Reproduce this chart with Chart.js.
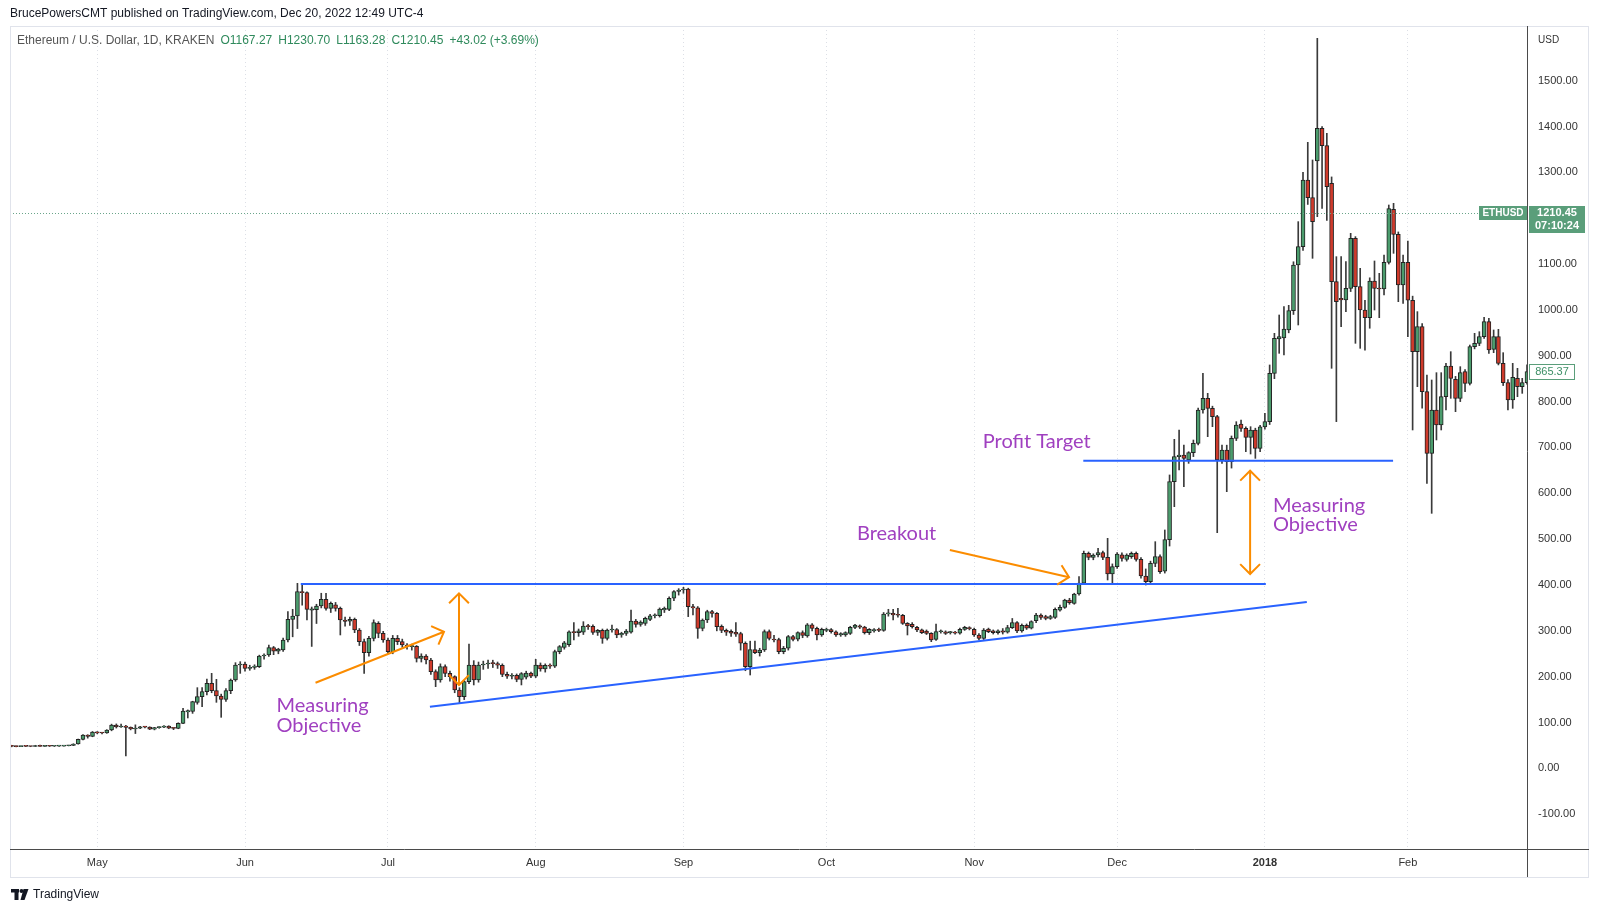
<!DOCTYPE html>
<html lang="en">
<head>
<meta charset="utf-8">
<title>Ethereum / U.S. Dollar, 1D, KRAKEN</title>
<script src="https://cdn.jsdelivr.net/npm/chart.js@4.4.1/dist/chart.umd.min.js"></script>
<style>
  html, body { margin: 0; padding: 0; background: #fff; overflow: hidden; }
  canvas { display: block; }
</style>
</head>
<body>
<canvas id="ch-eth" width="1600" height="912"></canvas>
<script>
// ══════════════════════════════════════════════════════════════════════════════
//  DATA  (bar 0 = 13 Apr 2017, one bar per trading day on Kraken;
//         January 2018 has 30 bars because the exchange was offline one day)
// ══════════════════════════════════════════════════════════════════════════════
const monthStarts = [18, 49, 79, 110, 141, 171, 202, 232, 263, 293];
const monthLabels = ['May', 'Jun', 'Jul', 'Aug', 'Sep', 'Oct', 'Nov', 'Dec', '2018', 'Feb'];
const priceTicks  = [-100, 0, 100, 200, 300, 400, 500, 600, 700, 800, 900, 1000, 1100, 1200, 1300, 1400, 1500];

const opens = [
  /* Apr */ 49.5, 48.0, 47.6, 48.2, 48.0, 47.8, 50.0, 48.1, 49.3, 48.3, 48.5, 48.6, 49.3, 50.0, 53.2, 63.4, 72.5, 69.8,
  /* May */ 79.4, 77.6, 77.2, 83.7, 94.6, 90.2, 92.5, 89.5, 86.0, 88.0, 90.5, 90.0, 85.5, 88.8, 90.0, 92.5, 88.0, 87.2, 98.2, 123.0, 124.1, 144.1, 156.5, 167.3, 185.5, 169.5, 157.9, 150.6, 169.5, 192.8, 225.5,
  /* Jun */ 227.7, 218.2, 220.4, 222.0, 245.1, 247.3, 263.3, 255.6, 258.2, 280.0, 325.1, 332.4, 385.4, 383.3, 345.0, 346.0, 354.2, 368.7, 349.1, 357.0, 349.1, 323.7, 321.0, 325.1, 301.8, 276.4, 252.4, 283.7, 316.4, 294.6,
  /* Jul */ 280.0, 254.6, 283.7, 276.4, 269.1, 265.5, 266.5, 240.0, 245.1, 236.4, 211.0, 192.8, 221.9, 207.4, 200.0, 171.0, 156.4, 189.2, 225.5, 192.8, 225.5, 227.7, 231.0, 228.5, 225.0, 205.0, 201.0, 203.0, 194.0, 199.0, 208.0,
  /* Aug */ 201.0, 225.5, 217.0, 225.0, 223.0, 254.6, 264.0, 270.0, 298.0, 296.0, 297.0, 310.6, 310.0, 296.7, 301.0, 283.7, 301.8, 303.0, 290.9, 294.6, 297.0, 321.5, 314.0, 316.0, 325.0, 333.0, 333.0, 345.5, 347.0, 371.0, 386.0,
  /* Sep */ 389.0, 391.0, 352.7, 350.0, 305.5, 323.7, 341.8, 338.0, 310.0, 301.0, 299.0, 297.0, 294.0, 273.0, 222.0, 259.0, 252.4, 258.2, 298.2, 282.0, 281.0, 254.6, 262.0, 287.3, 282.0, 296.0, 289.0, 313.0, 305.5, 291.0,
  /* Oct */ 301.0, 303.0, 298.0, 291.0, 291.0, 294.6, 307.7, 311.0, 308.0, 296.0, 300.0, 303.0, 301.0, 337.0, 338.0, 336.0, 334.0, 316.4, 314.0, 307.7, 302.0, 299.7, 294.6, 281.5, 298.0, 298.0, 296.0, 297.0, 295.0, 303.0, 307.0,
  /* Nov */ 303.3, 291.0, 283.7, 304.0, 300.0, 296.0, 300.0, 297.0, 307.0, 318.0, 300.0, 312.0, 306.0, 322.0, 334.6, 331.0, 327.0, 329.5, 345.0, 351.3, 367.3, 360.0, 380.4, 404.0, 469.0, 460.4, 465.5, 470.6, 460.4, 424.0,
  /* Dec */ 440.0, 466.0, 456.0, 461.8, 469.0, 456.0, 419.7, 407.3, 447.3, 461.8, 430.0, 499.0, 625.3, 679.9, 683.5, 672.6, 688.6, 709.0, 781.7, 807.1, 785.3, 767.1, 672.6, 694.4, 669.0, 719.9, 751.1, 741.7, 722.0, 738.0, 698.0,
  /* Jan */ 745.0, 756.2, 861.7, 936.6, 939.0, 956.2, 998.4, 1097.9, 1137.9, 1283.3, 1244.8, 1324.8, 1396.0, 1358.2, 1276.1, 1061.6, 1025.3, 1021.6, 1047.1, 1156.1, 1050.7, 999.8, 983.1, 1063.1, 1047.1, 1045.6, 1103.8, 1219.4, 1164.8, 1054.4,
  /* Feb */ 1103.8, 1021.0, 908.9, 963.5, 821.7, 687.2, 781.7, 749.0, 810.8, 877.6, 848.6, 807.1, 865.3, 839.8, 919.8, 927.1, 941.6, 974.3, 914.0, 941.6, 883.5, 841.3, 803.5, 850.8, 832.6, 841.3,
];
const highs = [
  /* Apr */ 50.5, 48.9, 48.6, 48.7, 48.4, 50.4, 50.8, 49.8, 49.8, 48.9, 49.0, 49.6, 50.4, 53.8, 64.0, 74.0, 73.5, 80.5,
  /* May */ 80.2, 78.4, 84.5, 96.5, 97.0, 96.5, 94.0, 90.5, 95.0, 91.5, 91.5, 90.8, 89.5, 91.0, 93.5, 93.0, 89.0, 99.5, 131.0, 127.5, 146.5, 176.1, 176.0, 195.0, 207.3, 194.2, 162.0, 174.0, 195.0, 230.6, 232.8,
  /* Jun */ 232.0, 225.0, 226.0, 247.0, 250.0, 269.0, 266.0, 262.0, 284.0, 341.8, 347.0, 403.6, 400.0, 385.0, 352.0, 358.0, 382.0, 382.0, 363.0, 362.0, 352.0, 330.0, 330.0, 328.0, 305.0, 282.0, 288.0, 324.0, 320.0, 299.0,
  /* Jul */ 284.0, 290.0, 290.0, 282.0, 272.0, 271.0, 268.0, 250.0, 248.0, 240.0, 215.0, 228.0, 226.0, 212.0, 202.0, 176.0, 192.0, 271.0, 235.0, 232.0, 234.0, 236.0, 236.0, 232.0, 228.0, 210.0, 207.0, 206.0, 209.0, 212.0, 210.0,
  /* Aug */ 238.0, 230.0, 228.0, 228.0, 258.0, 268.0, 277.0, 300.0, 317.8, 304.0, 320.0, 314.0, 313.0, 303.0, 304.0, 304.0, 312.7, 305.0, 297.0, 303.0, 345.5, 325.0, 322.0, 330.0, 336.0, 337.0, 350.0, 352.0, 374.0, 388.0, 392.0,
  /* Sep */ 395.0, 393.0, 358.0, 353.0, 326.0, 345.0, 345.0, 340.0, 313.0, 304.0, 302.0, 317.8, 297.0, 276.0, 277.5, 277.5, 262.0, 302.0, 302.0, 290.0, 284.0, 266.0, 290.0, 290.0, 298.0, 300.0, 316.0, 316.0, 308.0, 306.0,
  /* Oct */ 306.0, 305.0, 300.0, 296.0, 298.0, 310.0, 314.0, 313.0, 310.0, 305.0, 305.0, 306.0, 340.0, 347.0, 347.0, 349.0, 336.0, 318.0, 318.0, 310.0, 304.0, 302.0, 296.0, 315.0, 302.0, 300.0, 299.0, 299.0, 306.0, 310.0, 309.0,
  /* Nov */ 306.0, 294.0, 305.0, 306.0, 302.0, 302.0, 305.0, 312.0, 327.0, 320.0, 315.0, 315.0, 322.0, 338.0, 337.0, 334.0, 334.0, 350.0, 356.0, 369.0, 371.0, 382.0, 418.2, 474.0, 472.0, 468.0, 480.0, 474.0, 501.8, 446.0,
  /* Dec */ 470.6, 470.0, 468.0, 472.0, 472.0, 460.0, 435.0, 452.0, 494.5, 466.0, 520.0, 640.0, 717.7, 738.0, 705.3, 690.8, 716.2, 786.0, 861.6, 818.0, 790.0, 770.0, 705.0, 705.0, 725.0, 756.2, 759.8, 745.0, 745.3, 742.0, 748.0,
  /* Jan */ 774.4, 879.9, 948.9, 988.9, 1007.1, 1010.0, 1105.0, 1192.5, 1300.0, 1365.5, 1327.0, 1592.3, 1399.7, 1385.0, 1290.0, 1116.1, 1116.1, 1105.2, 1167.0, 1159.8, 1090.7, 1021.0, 1070.0, 1106.7, 1079.8, 1119.8, 1228.8, 1232.5, 1170.0, 1119.8,
  /* Feb */ 1150.3, 1030.0, 996.2, 970.0, 858.0, 847.1, 863.1, 863.1, 883.5, 908.9, 855.0, 876.2, 870.0, 923.4, 948.9, 952.5, 983.8, 981.6, 956.2, 957.6, 906.7, 848.0, 883.5, 872.6, 850.8, 880.0,
];
const lows = [
  /* Apr */ 47.0, 47.0, 47.2, 47.5, 47.3, 47.6, 47.8, 47.9, 47.8, 47.8, 48.0, 48.3, 49.0, 49.8, 52.8, 62.0, 66.0, 69.0,
  /* May */ 75.5, 75.2, 76.5, 82.0, 88.0, 89.5, 27.0, 84.0, 76.0, 86.5, 88.5, 84.5, 84.0, 87.5, 89.0, 86.5, 84.5, 86.5, 97.5, 110.0, 120.0, 140.0, 134.6, 160.0, 165.0, 144.1, 111.4, 146.0, 163.0, 190.0, 207.3,
  /* Jun */ 212.0, 214.0, 216.0, 220.0, 238.0, 244.0, 248.0, 250.0, 255.0, 276.0, 287.0, 305.0, 356.0, 323.7, 266.0, 316.0, 350.0, 345.0, 340.0, 343.0, 291.0, 310.0, 312.0, 296.0, 268.0, 207.0, 245.0, 278.0, 285.0, 275.0,
  /* Jul */ 250.0, 250.0, 270.0, 264.0, 260.0, 258.0, 232.0, 232.0, 228.0, 205.0, 178.3, 188.0, 200.0, 190.0, 165.0, 141.9, 150.0, 185.0, 182.0, 188.0, 216.0, 218.0, 220.0, 218.0, 200.0, 196.0, 195.0, 189.0, 182.0, 195.0, 198.0,
  /* Aug */ 198.0, 212.0, 210.0, 218.0, 220.0, 250.0, 260.0, 266.0, 280.0, 288.0, 292.0, 303.0, 292.0, 290.0, 272.8, 280.0, 297.0, 285.0, 286.0, 290.0, 295.0, 308.0, 310.0, 312.0, 322.0, 328.0, 330.0, 340.0, 344.0, 366.0, 378.0,
  /* Sep */ 382.0, 331.0, 335.0, 283.7, 300.0, 318.0, 330.0, 300.0, 296.0, 290.0, 288.0, 288.0, 258.0, 213.0, 203.7, 250.0, 245.0, 255.0, 280.0, 276.0, 250.0, 250.0, 258.0, 278.0, 278.0, 285.0, 286.0, 300.0, 280.0, 288.0,
  /* Oct */ 298.0, 295.0, 288.0, 288.0, 288.0, 292.0, 305.0, 305.0, 293.0, 292.0, 297.0, 298.0, 299.0, 332.0, 323.7, 330.0, 314.0, 291.0, 306.0, 298.0, 294.0, 292.0, 276.4, 279.0, 295.0, 292.0, 293.0, 293.0, 293.0, 301.0, 302.0,
  /* Nov */ 288.0, 280.0, 281.0, 296.0, 293.0, 293.0, 293.0, 295.0, 305.0, 296.0, 297.0, 303.0, 304.0, 318.0, 325.0, 324.0, 325.0, 327.0, 343.0, 349.0, 358.0, 358.0, 378.0, 402.0, 455.0, 455.0, 461.0, 455.0, 410.9, 403.7,
  /* Dec */ 436.0, 452.0, 452.0, 458.0, 452.0, 415.0, 400.0, 403.0, 440.0, 425.0, 426.0, 485.0, 570.8, 650.8, 614.4, 665.3, 680.0, 705.3, 775.0, 723.5, 745.3, 514.1, 665.0, 603.5, 655.0, 715.0, 735.0, 690.8, 685.7, 676.2, 690.8,
  /* Jan */ 740.0, 750.0, 850.0, 905.3, 901.7, 950.0, 990.0, 967.1, 1130.0, 1230.0, 1112.5, 1203.4, 1221.6, 1195.0, 872.6, 756.3, 963.5, 996.2, 1040.0, 927.1, 916.2, 912.0, 960.0, 999.8, 983.1, 1032.5, 1100.0, 1123.4, 1018.0, 1014.4,
  /* Feb */ 941.6, 738.1, 832.6, 785.4, 621.7, 556.3, 716.3, 738.1, 781.7, 807.1, 778.0, 800.0, 821.7, 836.2, 915.0, 922.0, 938.0, 905.0, 906.7, 880.0, 835.0, 781.7, 785.3, 810.8, 818.0, 838.0,
];
const closes = [
  /* Apr */ 48.0, 47.6, 48.2, 48.0, 47.8, 50.0, 48.1, 49.3, 48.3, 48.5, 48.6, 49.3, 50.0, 53.2, 63.4, 72.5, 69.8, 79.4,
  /* May */ 77.6, 77.2, 83.7, 94.6, 90.2, 92.5, 89.5, 86.0, 88.0, 90.5, 90.0, 85.5, 88.8, 90.0, 92.5, 88.0, 87.2, 98.2, 125.2, 125.9, 145.5, 156.5, 167.3, 185.5, 169.5, 157.9, 150.6, 169.5, 192.8, 225.5, 227.7,
  /* Jun */ 218.2, 220.4, 223.3, 245.1, 247.3, 263.3, 255.6, 260.4, 280.0, 325.1, 332.4, 385.4, 383.3, 346.9, 348.0, 354.2, 368.7, 349.1, 360.0, 349.1, 323.7, 320.5, 325.1, 301.8, 276.4, 252.4, 283.7, 317.8, 294.6, 280.0,
  /* Jul */ 254.6, 283.7, 276.4, 269.1, 265.5, 266.5, 240.0, 245.1, 236.4, 211.0, 192.8, 221.9, 207.4, 200.0, 171.0, 156.4, 189.2, 225.5, 192.8, 225.5, 227.7, 229.6, 228.5, 225.0, 205.0, 201.0, 203.0, 194.0, 207.0, 208.0, 201.0,
  /* Aug */ 225.5, 217.0, 225.0, 223.0, 254.6, 265.5, 274.0, 298.0, 296.0, 300.0, 310.6, 309.1, 296.7, 301.0, 283.7, 301.8, 303.0, 290.9, 294.6, 299.7, 321.5, 314.0, 319.0, 327.3, 333.0, 334.0, 347.6, 349.0, 371.0, 385.4, 389.0,
  /* Sep */ 391.0, 352.7, 350.0, 305.5, 323.7, 341.8, 338.0, 309.1, 301.0, 297.0, 295.0, 293.0, 273.0, 222.0, 259.0, 252.4, 258.2, 298.2, 283.7, 280.0, 254.6, 262.0, 287.3, 281.5, 296.0, 290.0, 313.0, 305.5, 291.0, 303.3,
  /* Oct */ 303.0, 298.0, 291.0, 294.0, 296.0, 307.7, 312.8, 308.0, 296.0, 303.3, 303.0, 301.0, 336.7, 338.0, 334.6, 334.0, 316.4, 310.6, 309.0, 302.0, 296.0, 294.6, 280.0, 298.2, 300.0, 294.6, 298.0, 295.0, 303.3, 307.7, 305.0,
  /* Nov */ 291.0, 283.7, 301.9, 298.0, 296.0, 300.0, 297.0, 307.0, 318.0, 300.0, 312.0, 306.0, 320.0, 334.6, 329.5, 327.0, 331.0, 347.0, 351.3, 367.3, 361.5, 380.4, 404.0, 469.0, 460.4, 465.5, 470.6, 460.4, 424.0, 440.0,
  /* Dec */ 467.7, 458.0, 465.0, 469.0, 456.0, 419.7, 407.3, 447.3, 461.8, 429.0, 499.0, 625.3, 679.9, 683.5, 676.2, 688.6, 709.0, 781.7, 807.1, 785.3, 767.1, 672.6, 694.4, 669.0, 719.9, 748.9, 741.7, 722.0, 738.0, 698.0, 745.0,
  /* Jan */ 756.2, 861.7, 938.0, 941.6, 958.4, 998.4, 1097.9, 1137.9, 1283.3, 1244.8, 1192.5, 1396.0, 1358.2, 1268.8, 1061.6, 1018.0, 1021.6, 1047.1, 1156.1, 1050.7, 999.8, 983.1, 1063.1, 1047.1, 1045.6, 1103.8, 1221.0, 1164.8, 1054.4, 1103.8,
  /* Feb */ 1021.0, 908.9, 963.5, 821.7, 687.2, 781.7, 749.0, 810.8, 877.6, 850.8, 807.1, 863.1, 839.8, 919.8, 927.1, 941.6, 974.3, 912.5, 941.6, 883.5, 841.3, 803.5, 852.9, 832.6, 841.3, 865.37,
];
const lastPrice = 1210.45;

// ══════════════════════════════════════════════════════════════════════════════
//  DRAWINGS  (anchored like TradingView drawings: [bar index, price])
// ══════════════════════════════════════════════════════════════════════════════
const TRENDLINES = [
  { from: [60.7, 402.2], to: [263.2, 402.2] },   // flat top of the triangle
  { from: [87.8, 134.6], to: [271.8, 362.9] },   // rising lower side
  { from: [224.9, 671.2], to: [289.9, 671.2] },  // profit target
];
const ARROWS = [
  { from: [63.8, 186.9],  to: [90.75, 298.1], both: false },
  { from: [93.9, 181.9],  to: [93.9, 381.9],  both: true },
  { from: [196.9, 476.3], to: [221.9, 417.1], both: false },
  { from: [259.9, 424.0], to: [259.9, 649.3], both: true },
];
const NOTES = [
  { at: [55.6, 123.0],  lines: ['Measuring', 'Objective'] },
  { at: [177.4, 498.1], lines: ['Breakout'] },
  { at: [203.8, 698.8], lines: ['Profit Target'] },
  { at: [264.7, 559.9], lines: ['Measuring', 'Objective'] },
];

const UP = '#4b9c6d', DOWN = '#cf3a2b', EDGE = '#222', WICK = '#3a3a3a';
const LINE_BLUE = '#2962ff', ARROW_ORANGE = '#fb8c00', NOTE_PURPLE = '#a040c0';
const LABEL_GREEN = '#5a9e7a', TEXT = '#131722', AXIS_TEXT = '#333';
const FONT = '"Liberation Sans", Arial, sans-serif';

const idx = closes.map((_, i) => i);
const wickData = idx.map(i => ({ x: i, y: [lows[i], highs[i]] }));
const bodyData = idx.map(i => ({ x: i, y: [opens[i], closes[i]] }));
const isUp = i => closes[i] >= opens[i];

function headAt(ctx, tip, tail, len) {
  const a = Math.atan2(tip[1] - tail[1], tip[0] - tail[0]);
  ctx.beginPath();
  ctx.moveTo(tip[0] - len * Math.cos(a - Math.PI / 4), tip[1] - len * Math.sin(a - Math.PI / 4));
  ctx.lineTo(tip[0], tip[1]);
  ctx.lineTo(tip[0] - len * Math.cos(a + Math.PI / 4), tip[1] - len * Math.sin(a + Math.PI / 4));
  ctx.stroke();
}

const tvDrawings = {
  id: 'tvDrawings',
  beforeDraw(chart) {
    const { ctx } = chart;
    ctx.save();
    ctx.fillStyle = '#fff';
    ctx.fillRect(0, 0, chart.width, chart.height);
    ctx.restore();
  },
  afterDatasetsDraw(chart) {
    const { ctx, chartArea: a, scales: { x, y } } = chart;
    const px = p => [x.getPixelForValue(p[0]), y.getPixelForValue(p[1])];
    ctx.save();
    ctx.beginPath(); ctx.rect(a.left, a.top, a.right - a.left, a.bottom - a.top); ctx.clip();

    // last price line
    const ly = Math.round(y.getPixelForValue(lastPrice)) + 0.5;
    ctx.strokeStyle = '#6aa58a'; ctx.lineWidth = 1; ctx.setLineDash([1, 2]);
    ctx.beginPath(); ctx.moveTo(a.left, ly); ctx.lineTo(a.right - 48, ly); ctx.stroke();
    ctx.setLineDash([]);

    ctx.lineWidth = 2; ctx.strokeStyle = LINE_BLUE; ctx.lineCap = 'butt';
    TRENDLINES.forEach(t => {
      const p1 = px(t.from), p2 = px(t.to);
      ctx.beginPath(); ctx.moveTo(p1[0], p1[1]); ctx.lineTo(p2[0], p2[1]); ctx.stroke();
    });

    ctx.strokeStyle = ARROW_ORANGE; ctx.lineJoin = 'miter';
    ARROWS.forEach(ar => {
      const p1 = px(ar.from), p2 = px(ar.to);
      ctx.beginPath(); ctx.moveTo(p1[0], p1[1]); ctx.lineTo(p2[0], p2[1]); ctx.stroke();
      headAt(ctx, p2, p1, 14);
      if (ar.both) headAt(ctx, p1, p2, 14);
    });

    ctx.fillStyle = NOTE_PURPLE; ctx.font = '20px Lato, "Open Sans", sans-serif';
    ctx.textAlign = 'left'; ctx.textBaseline = 'alphabetic';
    NOTES.forEach(nt => {
      const p = px(nt.at);
      nt.lines.forEach((s, k) => ctx.fillText(s, p[0], p[1] + k * 19.5));
    });
    ctx.restore();
  },
  afterDraw(chart) {
    const { ctx, chartArea: a, scales: { y } } = chart;
    ctx.save();

    // pane frame and axis lines
    ctx.strokeStyle = '#e0e3eb'; ctx.lineWidth = 1;
    ctx.strokeRect(10.5, 26.5, 1578, 851);
    ctx.strokeStyle = '#4a4a4a';
    ctx.beginPath(); ctx.moveTo(a.right + 0.5, 26); ctx.lineTo(a.right + 0.5, 877); ctx.stroke();
    ctx.beginPath(); ctx.moveTo(10, a.bottom + 0.5); ctx.lineTo(1589, a.bottom + 0.5); ctx.stroke();

    // header
    ctx.textBaseline = 'middle'; ctx.textAlign = 'left';
    ctx.font = '12px ' + FONT; ctx.fillStyle = TEXT;
    ctx.fillText('BrucePowersCMT published on TradingView.com, Dec 20, 2022 12:49 UTC-4', 10, 14);
    let hx = 17;
    ctx.fillStyle = '#555';
    const title = 'Ethereum / U.S. Dollar, 1D, KRAKEN';
    ctx.fillText(title, hx, 41); hx += ctx.measureText(title).width + 6;
    ctx.fillStyle = '#2f8a5c';
    ['O1167.27', 'H1230.70', 'L1163.28', 'C1210.45', '+43.02 (+3.69%)'].forEach(s => {
      ctx.fillText(s, hx, 41); hx += ctx.measureText(s).width + 6;
    });

    // axis caption
    ctx.fillStyle = AXIS_TEXT; ctx.font = '10px ' + FONT;
    ctx.fillText('USD', a.right + 11, 40);

    // last price labels
    const ly = y.getPixelForValue(lastPrice);
    ctx.fillStyle = LABEL_GREEN;
    ctx.fillRect(a.right - 48, Math.round(ly) - 7, 48, 14);
    ctx.fillRect(a.right + 2, Math.round(ly) - 7, 56, 27);
    ctx.fillStyle = '#fff'; ctx.font = 'bold 10px ' + FONT; ctx.textAlign = 'center';
    ctx.fillText('ETHUSD', a.right - 24, Math.round(ly));
    ctx.font = 'bold 11px ' + FONT;
    ctx.fillText('1210.45', a.right + 30, Math.round(ly));
    ctx.fillText('07:10:24', a.right + 30, Math.round(ly) + 13);

    const cy = Math.round(y.getPixelForValue(closes[closes.length - 1]));
    ctx.fillStyle = '#fff'; ctx.fillRect(a.right + 2, cy - 8, 46, 16);
    ctx.strokeStyle = LABEL_GREEN; ctx.strokeRect(a.right + 2.5, cy - 7.5, 45, 15);
    ctx.fillStyle = '#3d8f66'; ctx.font = '11px ' + FONT;
    ctx.fillText('865.37', a.right + 25, cy);

    // logo
    ctx.fillStyle = TEXT;
    ctx.fillRect(11, 889, 8, 3.5);
    ctx.fillRect(14.5, 889, 4, 11);
    ctx.beginPath(); ctx.arc(21.5, 891, 2, 0, Math.PI * 2); ctx.fill();
    ctx.beginPath(); ctx.moveTo(23.5, 889); ctx.lineTo(28.5, 889); ctx.lineTo(24.5, 900); ctx.lineTo(20.5, 900); ctx.closePath(); ctx.fill();
    ctx.textAlign = 'left'; ctx.font = '12px ' + FONT;
    ctx.fillText('TradingView', 33, 895);

    if (opens.length !== closes.length || highs.length !== closes.length || lows.length !== closes.length) {
      ctx.fillStyle = 'red'; ctx.fillText('length mismatch ' + [opens.length, highs.length, lows.length, closes.length].join('/'), 600, 14);
    }
    ctx.restore();
  }
};

new Chart(document.getElementById('ch-eth').getContext('2d'), {
  type: 'bar',
  data: {
    datasets: [
      { label: 'body', data: bodyData, order: 0, grouped: false,
        backgroundColor: c => isUp(c.dataIndex) ? UP : DOWN,
        borderColor: EDGE, borderWidth: 1, borderSkipped: false,
        barThickness: 4, maxBarThickness: 4, minBarLength: 1 },
      { label: 'wick', data: wickData, order: 1, grouped: false,
        backgroundColor: WICK, borderWidth: 0,
        barThickness: 1, maxBarThickness: 1 },
    ]
  },
  options: {
    responsive: false, animation: false, events: [],
    layout: { padding: { left: 10, top: 26, right: 11, bottom: 34.5 } },
    plugins: { legend: { display: false }, tooltip: { enabled: false } },
    scales: {
      x: {
        type: 'linear', min: -0.31, max: 318, offset: false,
        grid: { color: '#dcdfe6', drawTicks: false, offset: false },
        border: { display: false, dash: [1, 3] },
        afterBuildTicks: s => { s.ticks = monthStarts.map(v => ({ value: v })); },
        afterFit: s => { s.height = 28.5; },
        ticks: {
          autoSkip: false, maxRotation: 0, padding: 7, color: AXIS_TEXT,
          font: c => ({ family: FONT, size: 11, weight: (c.tick && c.tick.value === 263) ? 'bold' : 'normal' }),
          callback: (v, i) => monthLabels[i]
        }
      },
      y: {
        position: 'right', min: -175.8, max: 1619.2,
        grid: { display: false, drawTicks: false },
        border: { display: false },
        afterBuildTicks: s => { s.ticks = priceTicks.map(v => ({ value: v })); },
        afterFit: s => { s.width = 62; },
        ticks: { autoSkip: false, padding: 11, color: AXIS_TEXT, font: { family: FONT, size: 11 },
                 callback: v => v.toFixed(2) }
      }
    }
  },
  plugins: [tvDrawings]
});
</script>
</body>
</html>
